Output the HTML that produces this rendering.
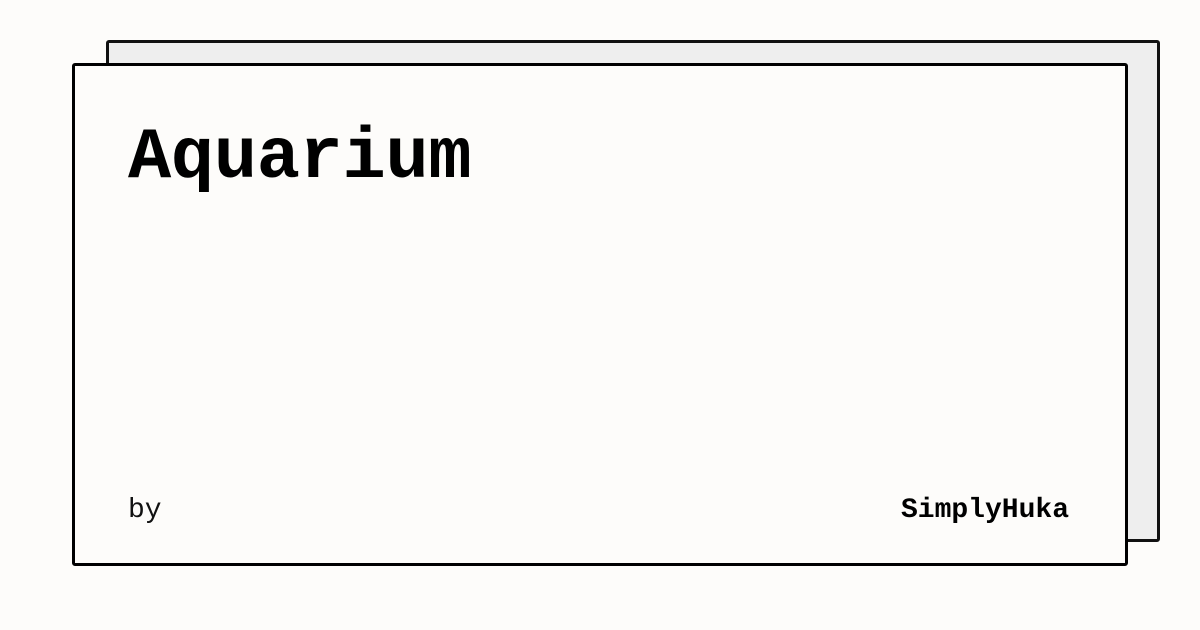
<!DOCTYPE html>
<html><head><style>
body{margin:0;width:1200px;height:630px;background:#fdfcfa;position:relative;overflow:hidden;font-family:"Liberation Mono",monospace;}
.back{position:absolute;left:106px;top:40px;width:1048px;height:496px;border:3px solid #111;border-radius:3px;background:#eeeeee;}
.front{position:absolute;left:72px;top:63px;width:1050px;height:497px;border:3.5px solid #000;border-radius:3px;background:#fdfcfa;}
.t{position:absolute;left:128px;top:113px;font-size:72px;font-weight:bold;line-height:90px;color:#000;letter-spacing:-0.3px;}
.by{position:absolute;left:128px;top:493px;font-size:28px;line-height:36px;color:#111;}
.a{position:absolute;right:131px;top:493px;font-size:28px;line-height:36px;font-weight:bold;color:#000;}
</style></head><body>
<div class="back"></div>
<div class="front"></div>
<div class="t">Aquarium</div>
<div class="by">by</div>
<div class="a">SimplyHuka</div>
</body></html>
